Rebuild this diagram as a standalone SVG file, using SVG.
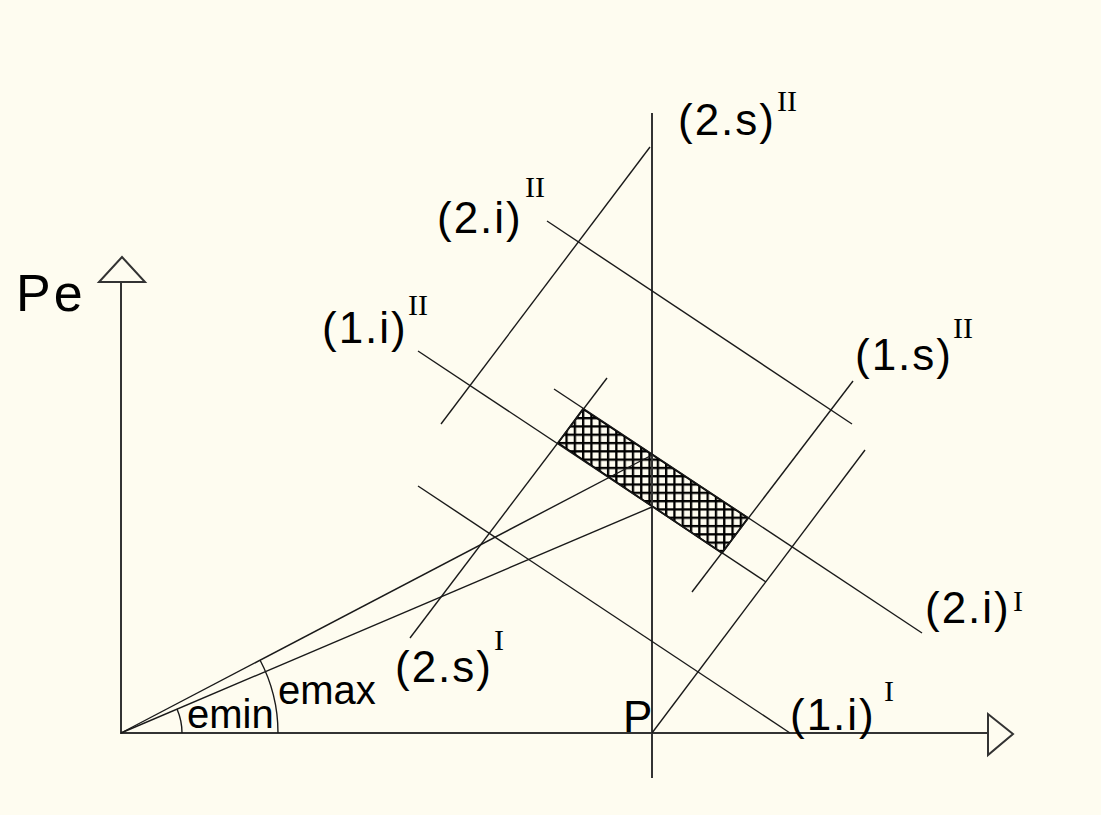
<svg xmlns="http://www.w3.org/2000/svg" width="1101" height="815" viewBox="0 0 1101 815">
<style>
.bg{fill:#FEFCF0}
.axis{stroke:#333;stroke-width:2;fill:none}
.ln{stroke:#1a1a1a;stroke-width:1.4;fill:none}
.arrow{stroke:#333;stroke-width:2;fill:#FEFCF0;stroke-linejoin:miter}
.lbl{font-family:"Liberation Sans",Arial,sans-serif;font-size:44px;fill:#000;letter-spacing:2px}
.big{font-family:"Liberation Sans",Arial,sans-serif;font-size:52px;fill:#000;letter-spacing:3px}
.sup{font-family:"Liberation Serif","Times New Roman",serif;font-size:30px;fill:#000}
.ang{font-family:"Liberation Sans",Arial,sans-serif;font-size:40px;fill:#000}
</style>
<defs>
<pattern id="hatch" patternUnits="userSpaceOnUse" x="1" y="2" width="8.3" height="8.3">
<rect x="0" y="0" width="8.3" height="2.3" fill="#000"/>
<rect x="0" y="0" width="2.3" height="8.3" fill="#000"/>
</pattern>
</defs>
<rect class="bg" x="0" y="0" width="1101" height="815"/>
<g id="hatched-region">
<polygon points="583,409 748,518 722,553 558,443" fill="url(#hatch)" stroke="#000" stroke-width="1.8"/>
</g>
<g id="axes">
<line class="axis" x1="121" y1="733" x2="121" y2="282"/>
<line class="axis" x1="120" y1="733" x2="988" y2="733"/>
<polygon class="arrow" points="99,282 145,282 122,257"/>
<polygon class="arrow" points="988,714 988,755 1013,734"/>
<line class="axis" x1="652" y1="113" x2="652" y2="778"/>
</g>
<g id="connectors">
<line class="ln" x1="441" y1="424" x2="650" y2="147"/>
<line class="ln" x1="547" y1="221" x2="852" y2="424"/>
<line class="ln" x1="418" y1="351" x2="766" y2="582"/>
<line class="ln" x1="554" y1="389" x2="922" y2="633"/>
<line class="ln" x1="692" y1="592" x2="853" y2="381"/>
<line class="ln" x1="652" y1="733" x2="865" y2="450"/>
<line class="ln" x1="410" y1="638" x2="607" y2="378"/>
<line class="ln" x1="418" y1="486" x2="790" y2="733"/>
<line class="ln" x1="121" y1="733" x2="652" y2="455"/>
<line class="ln" x1="121" y1="733" x2="652" y2="507"/>
<path class="ln" d="M182,733 A61,61 0 0 0 177,709"/>
<path class="ln" d="M278,733 A157,157 0 0 0 260,660"/>
</g>
<g id="labels">
<text class="big" x="16" y="311">Pe</text>
<text class="lbl" x="678" y="135">(2.s)</text><text class="sup" x="777" y="111">II</text>
<text class="lbl" x="437" y="233">(2.i)</text><text class="sup" x="525" y="197">II</text>
<text class="lbl" x="322" y="343">(1.i)</text><text class="sup" x="408" y="315">II</text>
<text class="lbl" x="855" y="370">(1.s)</text><text class="sup" x="953" y="338">II</text>
<text class="lbl" x="925" y="623">(2.i)</text><text class="sup" x="1013" y="611">I</text>
<text class="lbl" x="395" y="682">(2.s)</text><text class="sup" x="494" y="650">I</text>
<text class="lbl" x="790" y="730">(1.i)</text><text class="sup" x="884" y="701">I</text>
<text class="lbl" x="623" y="732">P</text>
<text class="ang" x="187" y="728">emin</text>
<text class="ang" x="278" y="704">emax</text>
</g>
</svg>
